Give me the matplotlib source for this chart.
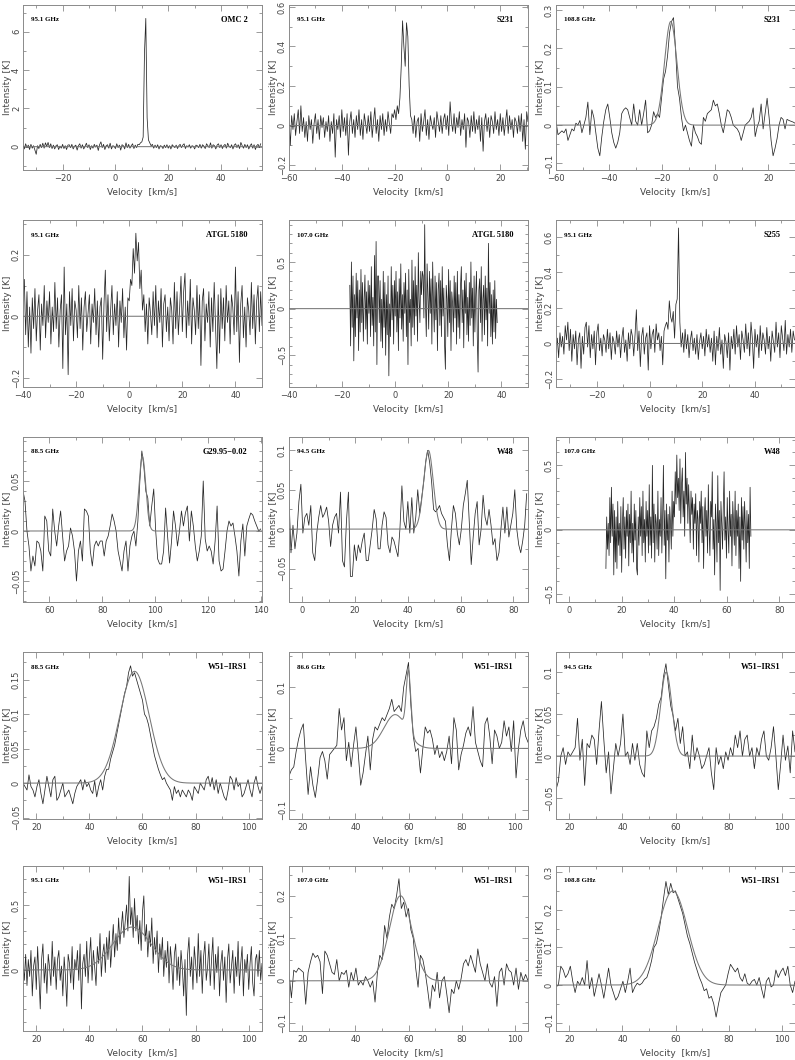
import matplotlib
matplotlib.use("Agg")
import matplotlib.pyplot as plt
import numpy as np
from matplotlib.ticker import MultipleLocator, FuncFormatter

# ---- spectra: (first channel velocity, channel width) and intensities [K] ----
chan1 = (-35.0, 0.5)   # OMC 2, 95.1 GHz
t1 = [0.10, -0.12, 0.15, -0.05, 0.08, -0.15, 0.12, -0.08, 0.05, -0.18,
      -0.40, 0.05, -0.10, 0.12, -0.05, 0.18, -0.08, 0.20, 0.02, 0.22,
      -0.05, 0.15, -0.10, 0.08, -0.12, 0.05, 0.10, -0.15, 0.03, -0.08,
      0.12, -0.10, 0.05, -0.15, 0.08, 0.10, -0.05, 0.12, -0.12, 0.02,
      0.08, -0.18, 0.05, 0.15, -0.08, 0.10, -0.12, 0.02, 0.18, -0.05,
      0.10, -0.15, 0.05, -0.08, 0.12, -0.02, 0.08, -0.20, 0.10, 0.25,
      -0.05, 0.12, -0.15, 0.05, 0.10, -0.08, 0.18, -0.12, 0.05, 0.02,
      -0.10, 0.15, -0.05, 0.08, -0.18, 0.10, 0.05, -0.12, 0.20, -0.05,
      0.12, -0.08, 0.05, 0.15, -0.10, 0.08, -0.05, 0.12, 0.10, 0.20,
      0.25, 0.50, 4.90, 6.70, 1.50, 0.35, 0.20, 0.05, 0.12, -0.08,
      0.08, -0.05, 0.10, -0.12, 0.05, 0.02, -0.10, 0.08, -0.05, 0.10,
      -0.08, 0.05, -0.12, 0.10, 0.02, -0.05, 0.08, -0.10, 0.05, 0.12,
      -0.05, 0.08, 0.15, -0.10, 0.05, -0.02, 0.10, -0.08, 0.05, 0.02,
      -0.12, 0.08, 0.05, -0.05, 0.12, -0.08, 0.10, 0.02, -0.10, 0.15,
      0.05, -0.05, 0.20, -0.08, 0.10, 0.05, -0.12, 0.08, 0.15, -0.05,
      0.10, -0.10, 0.05, 0.12, -0.08, 0.18, 0.02, -0.05, 0.10, -0.12,
      0.08, 0.15, -0.05, 0.10, -0.10, 0.22, 0.05, -0.08, 0.12, -0.05,
      0.10, -0.12, 0.05, 0.15, -0.08, 0.10, -0.15, 0.05, 0.12, -0.05, 0.15]

chan2 = (-60.0, 0.5)   # S231, 95.1 GHz
t2 = [0.03, -0.10, 0.05, -0.02, 0.06, -0.05, 0.02, 0.08, -0.04, 0.10,
      -0.03, 0.04, -0.06, 0.02, -0.08, 0.05, -0.02, 0.03, -0.09, 0.01,
      0.06, -0.04, 0.03, -0.07, 0.05, -0.01, 0.04, -0.06, 0.02, -0.03,
      0.05, -0.08, 0.02, -0.04, 0.06, -0.16, 0.03, -0.02, 0.05, -0.06,
      0.08, -0.03, 0.04, -0.05, 0.06, -0.15, 0.02, 0.07, -0.04, 0.03,
      -0.06, 0.05, -0.02, 0.08, -0.05, 0.03, -0.07, 0.06, 0.01, -0.04,
      0.05, -0.03, 0.07, -0.06, 0.02, 0.09, -0.04, 0.03, -0.08, 0.05,
      -0.02, 0.06, -0.05, 0.03, -0.03, 0.07, 0.01, -0.04, 0.06, 0.04,
      0.08, 0.03, 0.10, 0.06, 0.14, 0.30, 0.53, 0.40, 0.30, 0.52,
      0.45, 0.20, 0.05, 0.03, -0.04, 0.05, -0.06, 0.02, 0.04, -0.08,
      0.06, -0.03, 0.02, 0.08, -0.05, 0.03, -0.07, 0.05, 0.01, -0.02,
      0.04, -0.06, 0.07, 0.02, -0.03, 0.05, -0.04, 0.03, 0.06, -0.02,
      0.05, -0.05, 0.12, 0.02, -0.03, 0.06, -0.04, 0.04, -0.01, 0.07,
      -0.05, 0.03, -0.02, 0.06, -0.11, 0.04, 0.02, -0.06, 0.05, -0.03,
      0.07, -0.04, 0.03, -0.02, 0.05, -0.08, 0.04, -0.13, 0.02, 0.06,
      -0.03, 0.04, -0.06, 0.05, 0.02, -0.04, 0.07, -0.02, 0.03, -0.05,
      0.06, -0.03, 0.04, -0.05, 0.02, 0.08, -0.04, 0.05, -0.02, 0.03,
      -0.06, 0.04, 0.02, -0.04, 0.05, -0.03, 0.06, -0.08, 0.03, -0.12, 0.07, 0.02]

chan3 = (-60.0, 0.75)  # S231, 108.8 GHz
t3 = [0.01, -0.025, -0.02, -0.015, -0.02, -0.01, -0.04, -0.025, -0.01, -0.015,
      0.005, 0.0, 0.012, -0.02, 0.0, 0.02, 0.06, -0.025, 0.04, 0.02,
      -0.02, -0.06, -0.08, -0.03, 0.01, 0.04, 0.055, 0.02, -0.02, -0.045,
      -0.06, -0.045, -0.02, 0.03, 0.04, 0.045, 0.04, 0.02, 0.0, 0.055,
      0.01, 0.0, 0.04, 0.0, 0.03, 0.065, -0.02, -0.015, 0.0, 0.035,
      0.02, 0.03, 0.02, 0.07, 0.12, 0.14, 0.18, 0.24, 0.27, 0.28,
      0.2, 0.1, 0.07, 0.02, -0.015, 0.0, -0.02, -0.04, -0.055, 0.0,
      -0.02, -0.03, -0.045, -0.05, 0.02, 0.01, 0.03, 0.035, 0.04, 0.065,
      0.05, 0.055, 0.03, 0.0, -0.02, 0.01, 0.04, 0.035, 0.02, 0.0,
      -0.005, -0.01, -0.02, -0.04, -0.02, 0.0, 0.005, 0.01, 0.02, 0.045,
      -0.03, -0.005, 0.01, 0.055, -0.01, 0.03, 0.07, 0.02, -0.04, -0.08,
      -0.06, -0.035, 0.0, 0.02, 0.015, -0.01, 0.015, 0.012, 0.01, 0.008,
      0.005]

chan4 = (-40.0, 0.5)   # ATGL 5180, 95.1 GHz
t4 = [0.05, 0.12, -0.06, 0.08, -0.10, 0.03, -0.12, 0.06, -0.04, 0.09,
      -0.08, 0.02, 0.07, -0.11, 0.04, -0.03, 0.10, -0.07, 0.05, -0.02,
      0.08, -0.09, 0.03, -0.05, 0.11, -0.04, 0.06, -0.10, 0.02, 0.07,
      -0.17, 0.16, -0.06, 0.04, -0.19, 0.08, -0.03, 0.09, -0.08, 0.05,
      0.02, -0.07, 0.10, -0.04, 0.06, -0.11, 0.03, 0.08, -0.05, 0.01,
      0.07, -0.09, 0.04, -0.02, 0.09, -0.06, 0.05, -0.10, 0.03, 0.06,
      -0.14, 0.04, 0.15, -0.05, 0.07, -0.08, 0.02, 0.10, -0.06, 0.04,
      -0.03, 0.08, -0.10, 0.05, -0.02, 0.09, -0.07, 0.03, -0.11, 0.06,
      0.05, 0.12, 0.10, 0.22, 0.14, 0.27, 0.18, 0.24, 0.09, 0.15,
      0.02, 0.07, -0.05, 0.04, -0.09, 0.06, 0.01, -0.06, 0.08, -0.03,
      0.10, -0.07, 0.05, -0.02, 0.09, -0.10, 0.04, 0.07, -0.05, 0.03,
      -0.08, 0.06, 0.02, -0.09, 0.11, -0.04, 0.08, -0.06, 0.03, 0.13,
      -0.05, 0.08, 0.14, -0.07, 0.05, -0.03, 0.12, -0.09, 0.06, 0.02,
      -0.06, 0.10, -0.04, 0.07, -0.16, 0.05, 0.09, -0.08, 0.04, -0.02,
      0.08, -0.10, 0.06, -0.05, 0.11, -0.03, -0.17, 0.07, -0.12, 0.09,
      -0.04, 0.06, -0.08, 0.10, -0.02, 0.05, -0.09, 0.07, 0.03, -0.06,
      0.16, -0.05, 0.08, -0.15, 0.04, 0.10, -0.07, 0.03, -0.10, 0.06,
      0.02, -0.06, 0.11, -0.04, 0.07, -0.09, 0.05, 0.10, -0.05, 0.08, -0.03]

chan5 = (-17.1, 0.3)   # ATGL 5180, 107.0 GHz
t5 = [0.25, -0.40, 0.50, -0.20, 0.35, -0.56, 0.15, -0.30, 0.38, -0.10,
      0.30, -0.45, 0.20, -0.25, 0.42, -0.15, 0.28, -0.35, 0.10, 0.36,
      -0.22, 0.18, -0.38, 0.30, -0.05, 0.25, -0.30, 0.45, -0.18, 0.12,
      -0.40, 0.57, -0.25, 0.72, -0.60, 0.35, 0.35, -0.15, 0.30, -0.35,
      0.10, -0.42, 0.40, -0.20, 0.28, -0.50, 0.15, -0.28, 0.35, -0.72,
      0.05, -0.30, 0.45, -0.12, 0.25, -0.38, 0.30, -0.08, 0.40, -0.25,
      0.18, -0.45, 0.32, -0.10, 0.48, -0.22, 0.15, -0.35, 0.28, -0.05,
      0.38, -0.30, 0.20, -0.60, 0.42, -0.15, 0.10, -0.40, 0.52, -0.20,
      0.30, -0.28, 0.45, -0.08, 0.25, -0.35, 0.60, 0.10, -0.15, 0.40,
      0.15, 0.40, 0.35, -0.10, 0.90, 0.05, -0.30, 0.48, 0.12, -0.22,
      0.40, -0.05, 0.32, -0.38, 0.50, 0.08, -0.25, 0.35, -0.12, 0.28,
      -0.45, 0.20, 0.38, -0.18, 0.30, -0.30, 0.45, -0.08, 0.22, -0.40,
      -0.65, 0.25, 0.10, -0.30, 0.42, -0.15, 0.30, -0.45, 0.18, 0.05,
      -0.25, 0.35, -0.10, 0.28, -0.38, 0.40, -0.20, 0.15, -0.32, 0.25,
      0.45, -0.15, 0.20, -0.42, 0.30, -0.05, 0.38, -0.28, 0.12, -0.35,
      0.28, -0.18, 0.50, -0.10, 0.22, -0.40, 0.35, -0.25, 0.15, 0.40,
      -0.30, -0.68, 0.20, 0.32, -0.15, 0.45, -0.35, 0.10, 0.25, -0.28,
      0.35, -0.12, 0.22, -0.40, 0.70, -0.05, 0.28, -0.30, 0.15, -0.38,
      0.20, -0.25, 0.30, -0.32, 0.10, -0.15]

chan6 = (-35.5, 0.5)   # S255, 95.1 GHz
t6 = [-0.05, 0.03, -0.08, 0.06, -0.02, 0.04, -0.06, 0.10, 0.02, 0.12,
      -0.04, 0.08, -0.10, 0.05, -0.03, 0.07, -0.12, 0.02, 0.06, -0.14,
      0.04, -0.06, 0.09, 0.12, -0.02, 0.10, -0.08, 0.05, -0.03, 0.07,
      -0.12, 0.06, 0.11, -0.04, 0.03, -0.07, 0.05, 0.02, -0.05, 0.08,
      -0.03, 0.06, -0.09, 0.04, 0.01, -0.06, 0.07, -0.02, 0.05, -0.08,
      0.03, 0.09, -0.05, 0.02, -0.10, 0.06, -0.03, 0.08, 0.04, -0.07,
      0.05, 0.19, -0.04, 0.07, -0.13, 0.04, 0.09, -0.06, 0.03, 0.06,
      -0.15, 0.10, -0.03, 0.05, 0.08, -0.05, 0.11, 0.02, 0.06, -0.04,
      0.04, -0.12, 0.07, 0.10, 0.12, 0.08, 0.24, 0.15, 0.12, 0.18,
      0.03, 0.22, 0.25, 0.65, 0.12, -0.02, 0.06, -0.05, 0.08, -0.03,
      0.05, -0.08, 0.02, 0.07, -0.04, 0.03, -0.06, 0.05, -0.09, 0.01,
      0.06, -0.03, 0.04, -0.07, 0.08, -0.02, 0.05, -0.05, 0.03, -0.10,
      0.07, -0.12, 0.04, -0.04, 0.09, -0.06, 0.02, -0.14, 0.05, 0.01,
      -0.08, 0.06, -0.15, 0.04, -0.03, 0.08, -0.06, 0.10, -0.02, 0.05,
      -0.09, 0.07, 0.02, -0.05, 0.11, -0.03, 0.06, -0.07, 0.12, 0.03,
      -0.14, 0.08, -0.02, 0.05, -0.08, 0.10, -0.04, 0.06, 0.02, -0.06,
      0.09, -0.03, 0.04, -0.10, 0.07, 0.01, -0.05, 0.12, -0.02, 0.06,
      -0.08, 0.10, 0.03, -0.04, 0.13, -0.06, 0.05, -0.02, 0.08, -0.05, 0.07, 0.02]

chan7 = (50.0, 0.75)   # G29.95-0.02, 88.5 GHz
t7 = [0.04, 0.03, 0.0, -0.015, -0.04, -0.025, -0.035, -0.01, -0.012, -0.02,
      -0.04, 0.015, 0.01, -0.02, -0.025, 0.022, 0.0, -0.015, 0.005, 0.02,
      -0.005, -0.03, -0.02, -0.015, 0.003, -0.005, -0.02, -0.05, -0.02, -0.01,
      -0.03, 0.022, 0.02, 0.015, -0.02, -0.035, -0.015, -0.01, -0.015, -0.01,
      -0.01, -0.025, -0.01, -0.005, 0.005, 0.017, 0.01, 0.0, -0.02, -0.03,
      -0.04, -0.02, -0.01, -0.04, -0.015, -0.005, 0.0, -0.015, 0.01, 0.05,
      0.08, 0.065, 0.04, 0.033, 0.005, 0.025, 0.042, 0.0, -0.028, -0.033,
      -0.033, -0.02, 0.023, -0.005, -0.032, -0.01, 0.02, 0.005, -0.015, 0.0,
      0.02, 0.005, 0.018, 0.025, -0.01, 0.02, 0.005, -0.015, -0.03, -0.02,
      -0.005, 0.05, -0.008, -0.02, -0.015, -0.02, -0.033, -0.01, 0.025, -0.03,
      -0.04, -0.038, -0.02, 0.0, 0.01, 0.005, 0.008, -0.005, -0.02, -0.045,
      -0.01, 0.007, -0.025, 0.005, 0.012, 0.018, 0.016, 0.01, 0.005, 0.0,
      0.002]

chan8 = (-5.0, 0.75)   # W48, 94.5 GHz
t8 = [0.04, -0.03, 0.005, -0.025, -0.005, 0.035, 0.057, -0.005, 0.015, 0.02,
      0.005, 0.03, -0.03, -0.04, -0.005, 0.015, 0.03, 0.015, 0.02, 0.028,
      0.01, -0.022, 0.005, 0.015, 0.02, -0.005, 0.047, -0.04, -0.048, 0.01,
      0.047, -0.06, -0.06, -0.02, -0.04, -0.02, -0.03, -0.015, -0.005, -0.04,
      -0.04, -0.02, 0.0, 0.025, 0.013, -0.025, -0.025, 0.005, 0.022, 0.015,
      -0.02, -0.03, -0.01, -0.015, -0.025, -0.035, 0.0, 0.055, 0.01, 0.0,
      0.035, -0.005, 0.04, -0.005, 0.015, 0.05, 0.02, 0.04, 0.06, 0.085,
      0.1, 0.085, 0.06, 0.025, 0.022, 0.025, 0.03, 0.02, 0.015, 0.01,
      -0.02, -0.04, 0.0, 0.03, 0.02, -0.005, -0.02, 0.0, 0.03, 0.045,
      0.062, 0.01, -0.045, -0.01, 0.02, 0.035, -0.02, 0.0, 0.043, 0.015,
      0.005, 0.025, 0.005, -0.02, -0.012, -0.04, -0.03, 0.0, 0.028, -0.005,
      0.028, -0.01, 0.005, 0.02, 0.05, 0.0, -0.02, -0.03, -0.015, 0.005,
      0.045]

chan9 = (14.0, 0.3)    # W48, 107.0 GHz
t9 = [-0.30, 0.10, -0.15, 0.05, -0.20, 0.25, -0.10, 0.33, -0.05, 0.20,
      -0.35, 0.15, -0.25, 0.10, -0.30, 0.22, -0.12, 0.05, -0.20, 0.18,
      -0.33, 0.05, 0.25, -0.15, 0.10, -0.22, 0.15, -0.05, 0.20, -0.28,
      0.12, -0.10, 0.30, -0.18, 0.05, -0.25, 0.20, -0.08, 0.15, -0.30,
      -0.35, 0.10, -0.12, 0.25, -0.05, 0.18, -0.20, 0.30, -0.10, 0.08,
      -0.25, 0.22, -0.05, 0.15, -0.18, 0.35, -0.12, 0.10, -0.22, 0.50,
      -0.10, 0.20, -0.25, 0.12, 0.05, -0.15, 0.30, -0.20, 0.08, -0.05,
      0.25, -0.18, 0.10, 0.50, -0.12, 0.15, -0.38, 0.20, -0.08, 0.12,
      -0.25, 0.18, 0.05, -0.15, 0.30, -0.05, 0.22, 0.10, 0.45, 0.20,
      0.58, 0.25, 0.40, 0.15, 0.55, 0.05, 0.35, 0.48, 0.10, 0.30,
      -0.05, 0.60, 0.20, 0.40, 0.05, 0.35, 0.15, -0.10, 0.30, 0.12,
      0.25, -0.15, 0.20, 0.05, 0.28, -0.20, 0.15, 0.08, -0.25, 0.22,
      0.05, 0.30, -0.10, 0.18, -0.30, 0.12, 0.25, -0.05, 0.15, -0.18,
      0.35, 0.00, -0.20, 0.22, 0.10, 0.45, -0.15, 0.08, -0.35, 0.20,
      0.05, -0.25, 0.42, -0.10, 0.15, -0.47, 0.22, 0.05, -0.15, 0.18,
      0.45, -0.08, 0.10, -0.22, 0.25, 0.00, -0.18, 0.30, -0.05, 0.12,
      -0.28, 0.22, 0.05, -0.12, 0.30, -0.20, 0.15, -0.05, 0.20, -0.30,
      0.10, -0.40, 0.25, -0.08, 0.18, -0.15, 0.22, 0.02, -0.25, 0.15,
      -0.10, 0.12, -0.30, 0.33, -0.05]

chan10 = (15.0, 0.75)  # W51-IRS1, 88.5 GHz
t10 = [0.0, -0.005, -0.01, 0.012, -0.005, -0.01, -0.02, -0.005, 0.005, -0.015,
       -0.03, -0.01, 0.01, -0.005, -0.02, 0.005, 0.01, -0.025, -0.02, -0.01,
       0.0, -0.02, -0.015, -0.01, -0.02, -0.03, -0.015, -0.005, 0.0, 0.005,
       -0.01, 0.005, -0.005, 0.0, -0.01, -0.015, 0.003, -0.02, -0.005, 0.005,
       -0.01, 0.01, 0.02, 0.02, 0.035, 0.045, 0.055, 0.07, 0.085, 0.1,
       0.115, 0.13, 0.14, 0.16, 0.17, 0.155, 0.16, 0.15, 0.14, 0.13,
       0.12, 0.1, 0.095, 0.085, 0.07, 0.055, 0.04, 0.03, 0.02, 0.012,
       0.005, 0.008, 0.0, -0.005, -0.01, -0.025, -0.005, -0.015, -0.01, -0.02,
       -0.01, -0.015, -0.02, -0.01, -0.015, -0.025, -0.005, -0.01, -0.015, 0.0,
       -0.005, -0.01, 0.005, 0.01, -0.005, 0.008, -0.01, 0.005, -0.015, 0.0,
       -0.01, -0.02, -0.025, -0.01, 0.01, 0.005, -0.01, 0.008, -0.005, 0.0,
       -0.02, -0.015, -0.005, 0.005, -0.01, -0.02, 0.0, 0.01, -0.005, -0.015,
       -0.005]

chan11 = (15.0, 0.9)   # W51-IRS1, 86.6 GHz
t11 = [-0.045, -0.035, -0.03, -0.005, 0.015, 0.03, 0.04, -0.02, -0.075, -0.03,
       -0.06, -0.08, -0.05, -0.015, -0.005, -0.02, -0.05, -0.01, -0.005, 0.0,
       0.005, 0.065, 0.03, 0.05, -0.02, 0.01, -0.03, 0.005, 0.035, -0.01,
       -0.06, -0.04, -0.01, 0.02, -0.035, 0.015, 0.035, 0.03, 0.04, 0.05,
       0.045, 0.055, 0.065, 0.08, 0.06, 0.065, 0.07, 0.06, 0.1, 0.12,
       0.14, 0.07, 0.02, -0.005, 0.0, -0.04, 0.0, 0.035, 0.025, 0.03,
       0.015, -0.01, 0.005, -0.015, -0.005, -0.02, -0.005, 0.02, -0.025, 0.05,
       0.03, -0.035, -0.01, 0.005, 0.025, 0.035, 0.02, 0.068, 0.01, -0.005,
       -0.02, -0.03, 0.04, 0.05, 0.02, -0.025, 0.03, 0.02, 0.0, 0.01,
       0.045, 0.02, 0.035, -0.005, 0.045, -0.048, 0.0, 0.03, 0.045, 0.02,
       0.01]

chan12 = (15.0, 0.9)   # W51-IRS1, 94.5 GHz
t12 = [-0.04, -0.03, 0.0, 0.01, -0.01, 0.005, 0.0, 0.005, 0.01, 0.045,
       -0.005, 0.02, -0.035, 0.015, 0.01, 0.025, 0.02, -0.01, 0.03, 0.065,
       0.02, -0.02, 0.005, -0.045, -0.015, 0.015, 0.0, 0.015, 0.05, 0.0,
       0.005, -0.01, 0.015, -0.005, 0.015, -0.01, -0.02, -0.025, 0.03, 0.01,
       0.03, 0.035, 0.045, 0.062, 0.07, 0.095, 0.11, 0.085, 0.06, 0.048,
       0.03, 0.045, 0.015, 0.035, 0.0, 0.005, -0.015, 0.025, -0.005, 0.01,
       0.0, -0.015, -0.01, 0.0, 0.01, -0.02, -0.04, 0.01, -0.01, 0.0,
       -0.015, 0.005, -0.005, 0.01, 0.0, 0.025, 0.01, 0.03, 0.0, 0.02,
       0.025, 0.0, 0.01, -0.015, 0.01, 0.0, 0.02, 0.03, 0.0, -0.005,
       0.01, 0.035, 0.0, -0.04, -0.01, 0.025, -0.005, 0.012, -0.02, 0.03,
       0.005]

chan13 = (15.0, 0.5)   # W51-IRS1, 95.1 GHz
t13 = [0.05, -0.08, 0.12, -0.12, 0.08, -0.05, 0.15, -0.20, 0.03, 0.10,
       -0.15, 0.18, -0.05, -0.30, 0.08, 0.20, -0.10, 0.05, -0.18, 0.12,
       0.02, -0.12, 0.22, -0.05, 0.10, -0.15, 0.08, 0.15, -0.08, 0.03,
       -0.20, 0.10, -0.05, -0.28, 0.12, 0.05, -0.10, 0.18, -0.15, 0.08,
       0.00, 0.15, -0.08, 0.20, -0.30, 0.05, 0.12, -0.05, 0.22, -0.10,
       0.10, 0.25, -0.08, 0.15, 0.02, -0.12, 0.18, 0.05, 0.28, -0.05,
       0.12, 0.20, -0.02, 0.25, 0.08, 0.30, 0.02, 0.18, 0.35, 0.10,
       0.28, 0.15, 0.40, 0.20, 0.32, 0.45, 0.25, 0.38, 0.50, 0.30,
       0.72, 0.35, 0.48, 0.25, 0.55, 0.30, 0.42, 0.20, 0.38, 0.15,
       0.45, 0.57, 0.22, 0.35, 0.10, 0.30, 0.18, 0.40, 0.05, 0.25,
       0.12, 0.30, -0.02, 0.20, 0.08, 0.25, -0.05, 0.15, 0.02, 0.22,
       -0.10, 0.18, 0.05, -0.15, 0.12, 0.20, -0.08, 0.10, -0.12, 0.15,
       0.02, -0.20, 0.08, -0.35, 0.12, 0.25, -0.05, 0.10, -0.15, 0.18,
       0.05, -0.10, 0.28, -0.05, 0.15, -0.18, 0.10, 0.22, -0.08, 0.02,
       0.20, -0.12, 0.08, 0.25, -0.15, 0.12, -0.02, 0.18, -0.20, 0.05,
       0.15, -0.08, 0.10, -0.25, 0.08, 0.20, -0.10, 0.02, 0.15, -0.18,
       0.10, -0.05, 0.22, -0.12, 0.05, 0.18, -0.20, 0.08, -0.02, 0.12,
       -0.15, 0.05, 0.18, -0.10, -0.20, 0.08, 0.12, -0.05, 0.15, -0.08, 0.05]

chan14 = (15.0, 0.9)   # W51-IRS1, 107.0 GHz
t14 = [0.02, -0.04, 0.025, 0.02, 0.03, 0.025, 0.02, -0.055, 0.02, 0.045,
       0.065, 0.055, 0.06, 0.045, -0.03, 0.07, 0.06, 0.04, 0.02, 0.015,
       0.05, 0.0, 0.02, 0.015, 0.025, -0.015, 0.02, 0.0, 0.03, -0.01,
       0.0, -0.01, 0.01, 0.0, -0.015, 0.0, -0.05, 0.02, 0.06, 0.05,
       0.13, 0.1, 0.15, 0.18, 0.17, 0.2, 0.24, 0.17, 0.185, 0.15,
       0.17, 0.12, 0.1, 0.03, -0.015, 0.06, 0.05, 0.02, -0.02, -0.065,
       -0.01, -0.025, 0.02, -0.04, 0.0, 0.01, -0.03, -0.075, -0.02, -0.03,
       0.0, -0.02, 0.005, 0.04, 0.05, 0.035, 0.06, 0.04, 0.02, 0.075,
       0.04, 0.02, 0.0, 0.04, -0.005, -0.015, 0.01, -0.06, 0.02, 0.03,
       -0.01, 0.04, 0.025, 0.02, -0.01, 0.03, -0.02, 0.02, 0.0, 0.015,
       0.0]

chan15 = (15.0, 0.9)   # W51-IRS1, 108.8 GHz
t15 = [-0.005, 0.0, 0.05, 0.04, 0.02, 0.03, 0.05, 0.01, -0.02, 0.01,
       0.0, 0.02, 0.0, 0.065, -0.01, 0.02, -0.03, 0.0, 0.03, 0.0,
       -0.035, 0.005, 0.045, 0.0, -0.02, -0.04, -0.03, -0.01, 0.01, -0.02,
       0.01, 0.045, -0.02, -0.005, 0.005, 0.0, 0.005, 0.015, 0.02, 0.04,
       0.065, 0.1, 0.11, 0.14, 0.18, 0.23, 0.275, 0.24, 0.27, 0.245,
       0.25, 0.23, 0.21, 0.19, 0.16, 0.13, 0.11, 0.085, 0.06, 0.04,
       0.02, 0.005, -0.015, -0.01, -0.035, -0.03, -0.05, -0.085, -0.05, -0.02,
       -0.01, 0.0, 0.03, 0.055, 0.045, 0.035, 0.045, 0.02, 0.01, 0.03,
       0.005, 0.0, 0.01, 0.015, 0.0, 0.02, -0.01, -0.035, 0.01, 0.02,
       -0.005, 0.0, 0.04, 0.02, 0.035, 0.045, 0.025, 0.05, 0.0, -0.02,
       0.01]

# Gaussian fit components (amplitude K, centre km/s, FWHM km/s)
fit3 = [(0.27, -16.8, 5.5)]
fit7 = [(0.075, 95.2, 3.0)]
fit8 = [(0.10, 47.8, 4.3)]
fit10 = [(0.162, 57.0, 13.0)]
fit11 = [(0.055, 55.0, 10.0), (0.10, 60.0, 2.0)]
fit12 = [(0.10, 56.5, 5.0)]
fit13 = [(0.33, 56.0, 17.0)]
fit14 = [(0.20, 57.0, 10.0)]
fit15 = [(0.25, 59.0, 13.0)]

freqs = ["95.1 GHz", "95.1 GHz", "108.8 GHz",
         "95.1 GHz", "107.0 GHz", "95.1 GHz",
         "88.5 GHz", "94.5 GHz", "107.0 GHz",
         "88.5 GHz", "86.6 GHz", "94.5 GHz",
         "95.1 GHz", "107.0 GHz", "108.8 GHz"]
sources = ["OMC 2", "S231", "S231",
           "ATGL 5180", "ATGL 5180", "S255",
           "G29.95\u22120.02", "W48", "W48",
           "W51\u2212IRS1", "W51\u2212IRS1", "W51\u2212IRS1",
           "W51\u2212IRS1", "W51\u2212IRS1", "W51\u2212IRS1"]

spectra = [(chan1, t1, []), (chan2, t2, []), (chan3, t3, fit3),
           (chan4, t4, []), (chan5, t5, []), (chan6, t6, []),
           (chan7, t7, fit7), (chan8, t8, fit8), (chan9, t9, []),
           (chan10, t10, fit10), (chan11, t11, fit11), (chan12, t12, fit12),
           (chan13, t13, fit13), (chan14, t14, fit14), (chan15, t15, fit15)]

xlims = [(-35, 55.5), (-60, 30.5), (-60, 30),
         (-40, 50), (-40, 50), (-35.5, 55.2),
         (50, 140.5), (-5, 85.5), (-5, 86),
         (15, 105), (15, 105), (15, 105),
         (15, 105), (15, 105), (15, 105)]
ylims = [(-1.22, 7.4), (-0.225, 0.61), (-0.117, 0.313),
         (-0.23, 0.313), (-0.84, 0.95), (-0.245, 0.695),
         (-0.071, 0.094), (-0.0925, 0.117), (-0.56, 0.72),
         (-0.052, 0.19), (-0.115, 0.157), (-0.075, 0.124),
         (-0.47, 0.8), (-0.118, 0.27), (-0.122, 0.316)]
yticks = [(2, 1), (0.2, 0.1), (0.1, 0.05),
          (0.2, 0.1), (0.5, 0.1), (0.2, 0.1),
          (0.05, 0.01), (0.05, 0.025), (0.5, 0.1),
          (0.05, 0.025), (0.1, 0.05), (0.05, 0.025),
          (0.5, 0.1), (0.1, 0.05), (0.1, 0.05)]

W, H = 795, 1060
col_left = [23, 289, 556]
col_w = 239
rows = [(5, 170), (220, 387), (437, 602), (652, 819), (866, 1031)]

frame = '#8a8a8a'
txt = '#444444'


def tick_fmt(x, pos):
    if abs(x) < 1e-9:
        return '0'
    return ('%g' % round(x, 4)).replace('-', '\u2212')


def gauss_model(v, comps):
    y = np.zeros_like(v)
    for amp, cen, fwhm in comps:
        y = y + amp * np.exp(-4 * np.log(2) * ((v - cen) / fwhm) ** 2)
    return y


fig = plt.figure(figsize=(W / 100, H / 100), dpi=100)

for k in range(15):
    r, c = divmod(k, 3)
    top, bot = rows[r]
    ax = fig.add_axes([col_left[c] / W, 1 - bot / H, col_w / W, (bot - top) / H])
    (v0, dv), t, comps = spectra[k]
    vel = v0 + dv * np.arange(len(t))

    # baseline / Gaussian fit over the whole window
    vf = np.linspace(xlims[k][0], xlims[k][1], 1200)
    ax.plot(vf, gauss_model(vf, comps), color='#777777', lw=0.75, zorder=3)
    ax.plot(vel, t, color='#262626', lw=0.55, zorder=2)

    ax.set_xlim(*xlims[k])
    ax.set_ylim(*ylims[k])
    ax.xaxis.set_major_locator(MultipleLocator(20))
    ax.xaxis.set_minor_locator(MultipleLocator(10))
    ax.yaxis.set_major_locator(MultipleLocator(yticks[k][0]))
    ax.yaxis.set_minor_locator(MultipleLocator(yticks[k][1]))
    ax.xaxis.set_major_formatter(FuncFormatter(tick_fmt))
    ax.yaxis.set_major_formatter(FuncFormatter(tick_fmt))

    for s in ax.spines.values():
        s.set_color(frame)
        s.set_linewidth(0.7)
    ax.tick_params(which='both', direction='in', top=True, right=True,
                   color=frame, width=0.6, labelsize=6, labelcolor=txt)
    ax.tick_params(which='major', length=4)
    ax.tick_params(which='minor', length=2)
    ax.tick_params(axis='x', pad=3)
    ax.tick_params(axis='y', pad=1.5, labelrotation=90)
    for lbl in ax.get_yticklabels():
        lbl.set_va('center')

    ax.set_xlabel('Velocity  [km/s]', fontsize=6.5, color=txt)
    ax.xaxis.set_label_coords(0.5, -18 / (bot - top))
    ax.set_ylabel('Intensity [K]', fontsize=6.5, color=txt)
    ax.yaxis.set_label_coords(-11 / col_w, 0.5)

    ax.text(0.035, 0.91, freqs[k], transform=ax.transAxes, fontsize=5,
            fontweight='bold', family='Liberation Serif', ha='left', va='center')
    ax.text(0.94, 0.91, sources[k], transform=ax.transAxes, fontsize=6,
            fontweight='bold', family='Liberation Serif', ha='right', va='center')

fig.savefig('out.png', dpi=100)
